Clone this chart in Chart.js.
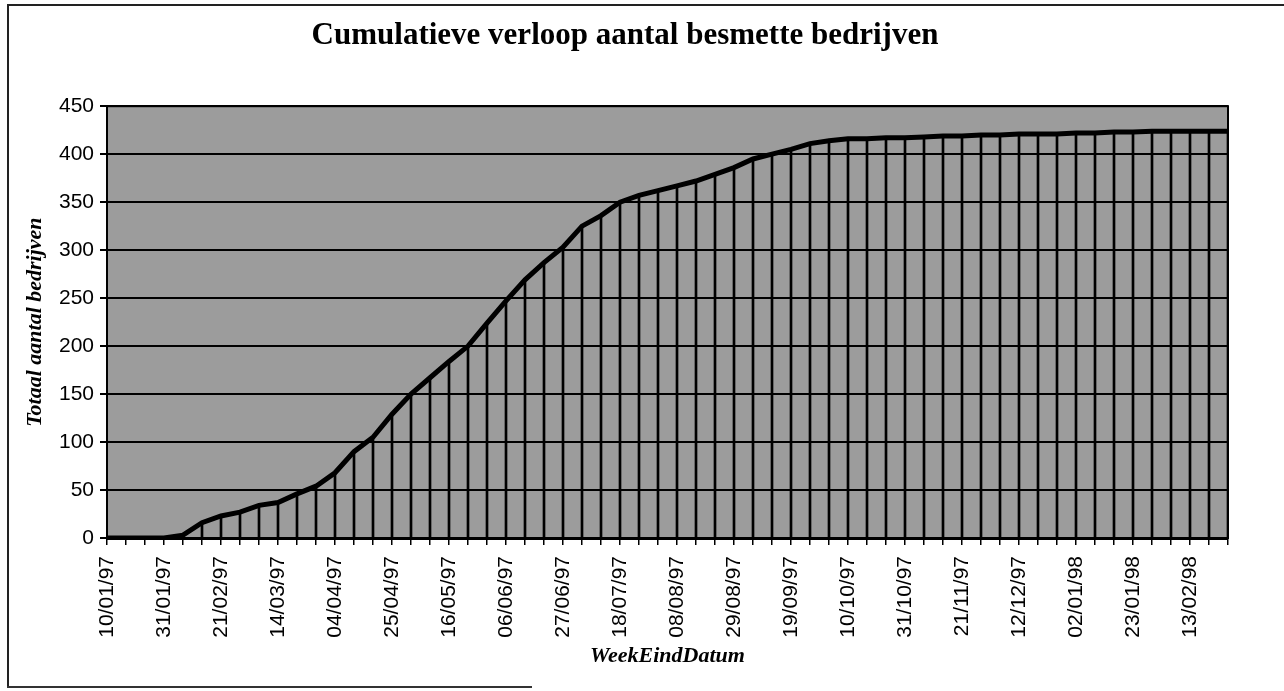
<!DOCTYPE html>
<html>
<head>
<meta charset="utf-8">
<script src="https://cdn.jsdelivr.net/npm/chart.js@4/dist/chart.umd.min.js"></script>
<style>
  body { margin: 0; background: #fff; overflow: hidden; }
  #wrap { position: relative; width: 1284px; height: 691px; overflow: hidden; }
  #frame { position: absolute; left: 7px; top: 4px; width: 1280px; height: 682px; border-left: 2px solid #222; border-top: 2px solid #222; }
  #bottomLine { position: absolute; left: 7px; top: 686px; width: 525px; height: 2px; background: #333; }
  canvas { position: absolute; left: 0; top: 0; }
</style>
</head>
<body>
<div id="wrap">
  <div id="frame"></div>
  <div id="bottomLine"></div>
  <canvas id="myChart" width="1284" height="691"></canvas>
</div>
<script>
// week end dates (every friday)
const weekEindDatum = [
  "10/01/97", "17/01/97", "24/01/97", "31/01/97", "07/02/97", "14/02/97",
  "21/02/97", "28/02/97", "07/03/97", "14/03/97", "21/03/97", "28/03/97",
  "04/04/97", "11/04/97", "18/04/97", "25/04/97", "02/05/97", "09/05/97",
  "16/05/97", "23/05/97", "30/05/97", "06/06/97", "13/06/97", "20/06/97",
  "27/06/97", "04/07/97", "11/07/97", "18/07/97", "25/07/97", "01/08/97",
  "08/08/97", "15/08/97", "22/08/97", "29/08/97", "05/09/97", "12/09/97",
  "19/09/97", "26/09/97", "03/10/97", "10/10/97", "17/10/97", "24/10/97",
  "31/10/97", "07/11/97", "14/11/97", "21/11/97", "28/11/97", "05/12/97",
  "12/12/97", "19/12/97", "26/12/97", "02/01/98", "09/01/98", "16/01/98",
  "23/01/98", "30/01/98", "06/02/98", "13/02/98", "20/02/98", "27/02/98"
];

// cumulative number of infected farms
const totaalBedrijven = [
  0, 0, 0, 0, 3, 16,
  23, 27, 34, 37, 46, 54,
  68, 90, 105, 129, 150, 167,
  184, 200, 224, 247, 269, 287,
  303, 325, 336, 350, 357, 362,
  367, 372, 379, 386, 395, 400,
  405, 411, 414, 416, 416, 417,
  417, 418, 419, 419, 420, 420,
  421, 421, 421, 422, 422, 423,
  423, 424, 424, 424, 424, 424
];

const yMin = 0;
const yMax = 450;
const yStep = 50;
const labelEvery = 3;

const ctx = document.getElementById('myChart');

// grey plot area + black frame round it
const plotBackground = {
  id: 'plotBackground',
  beforeDraw(chart) {
    const a = chart.chartArea;
    const c = chart.ctx;
    c.save();
    c.fillStyle = '#9c9c9c';
    c.fillRect(a.left, a.top, a.right - a.left, a.bottom - a.top);
    c.restore();
  },
  afterDraw(chart) {
    const a = chart.chartArea;
    const c = chart.ctx;
    c.save();
    c.strokeStyle = '#000';
    c.lineWidth = 2;
    c.strokeRect(a.left, a.top, a.right - a.left, a.bottom - a.top);
    c.restore();
  }
};

var myChart = new Chart(ctx, {
  data: {
    labels: weekEindDatum,
    datasets: [
      {
        type: 'line',
        data: totaalBedrijven,
        borderColor: '#000',
        borderWidth: 5,
        pointRadius: 0,
        tension: 0,
        order: 0
      },
      {
        // drop lines from each point down to the axis
        type: 'bar',
        data: totaalBedrijven,
        backgroundColor: '#000',
        barThickness: 2,
        order: 1
      }
    ]
  },
  options: {
    responsive: false,
    animation: false,
    layout: {
      padding: { left: 22, right: 56, top: 4, bottom: 21 }
    },
    plugins: {
      legend: { display: false },
      tooltip: { enabled: false },
      title: {
        display: true,
        text: 'Cumulatieve verloop aantal besmette bedrijven',
        color: '#000',
        font: { family: '"Liberation Serif"', size: 31, weight: 'bold' },
        padding: { top: 13, bottom: 52 }
      }
    },
    scales: {
      x: {
        type: 'category',
        offset: false,
        afterFit: (scale) => { scale.height = 132; },
        grid: {
          offset: false,
          drawOnChartArea: false,
          drawTicks: true,
          tickLength: 7,
          color: '#000',
          lineWidth: 1.5
        },
        border: { color: '#000', width: 3 },
        ticks: {
          autoSkip: false,
          minRotation: 90,
          maxRotation: 90,
          padding: 11,
          color: '#000',
          font: { family: '"Liberation Sans"', size: 21 },
          callback: function(value, index) {
            return index % labelEvery === 0 ? this.getLabelForValue(value) : '';
          }
        },
        title: {
          display: true,
          text: 'WeekEindDatum',
          color: '#000',
          font: { family: '"Liberation Serif"', size: 22, weight: 'bold', style: 'italic' },
          padding: { top: 0, bottom: 0 }
        }
      },
      y: {
        min: yMin,
        max: yMax,
        afterFit: (scale) => { scale.width = 85; },
        grid: {
          color: '#000',
          lineWidth: 2,
          drawTicks: true,
          tickLength: 7
        },
        border: { color: '#000', width: 2 },
        ticks: {
          stepSize: yStep,
          padding: 6,
          color: '#000',
          font: { family: '"Liberation Sans"', size: 21 }
        },
        title: {
          display: true,
          text: 'Totaal aantal bedrijven',
          color: '#000',
          font: { family: '"Liberation Serif"', size: 22, weight: 'bold', style: 'italic' },
          padding: { top: 0, bottom: 4 }
        }
      }
    }
  },
  plugins: [plotBackground]
});
</script>
</body>
</html>
